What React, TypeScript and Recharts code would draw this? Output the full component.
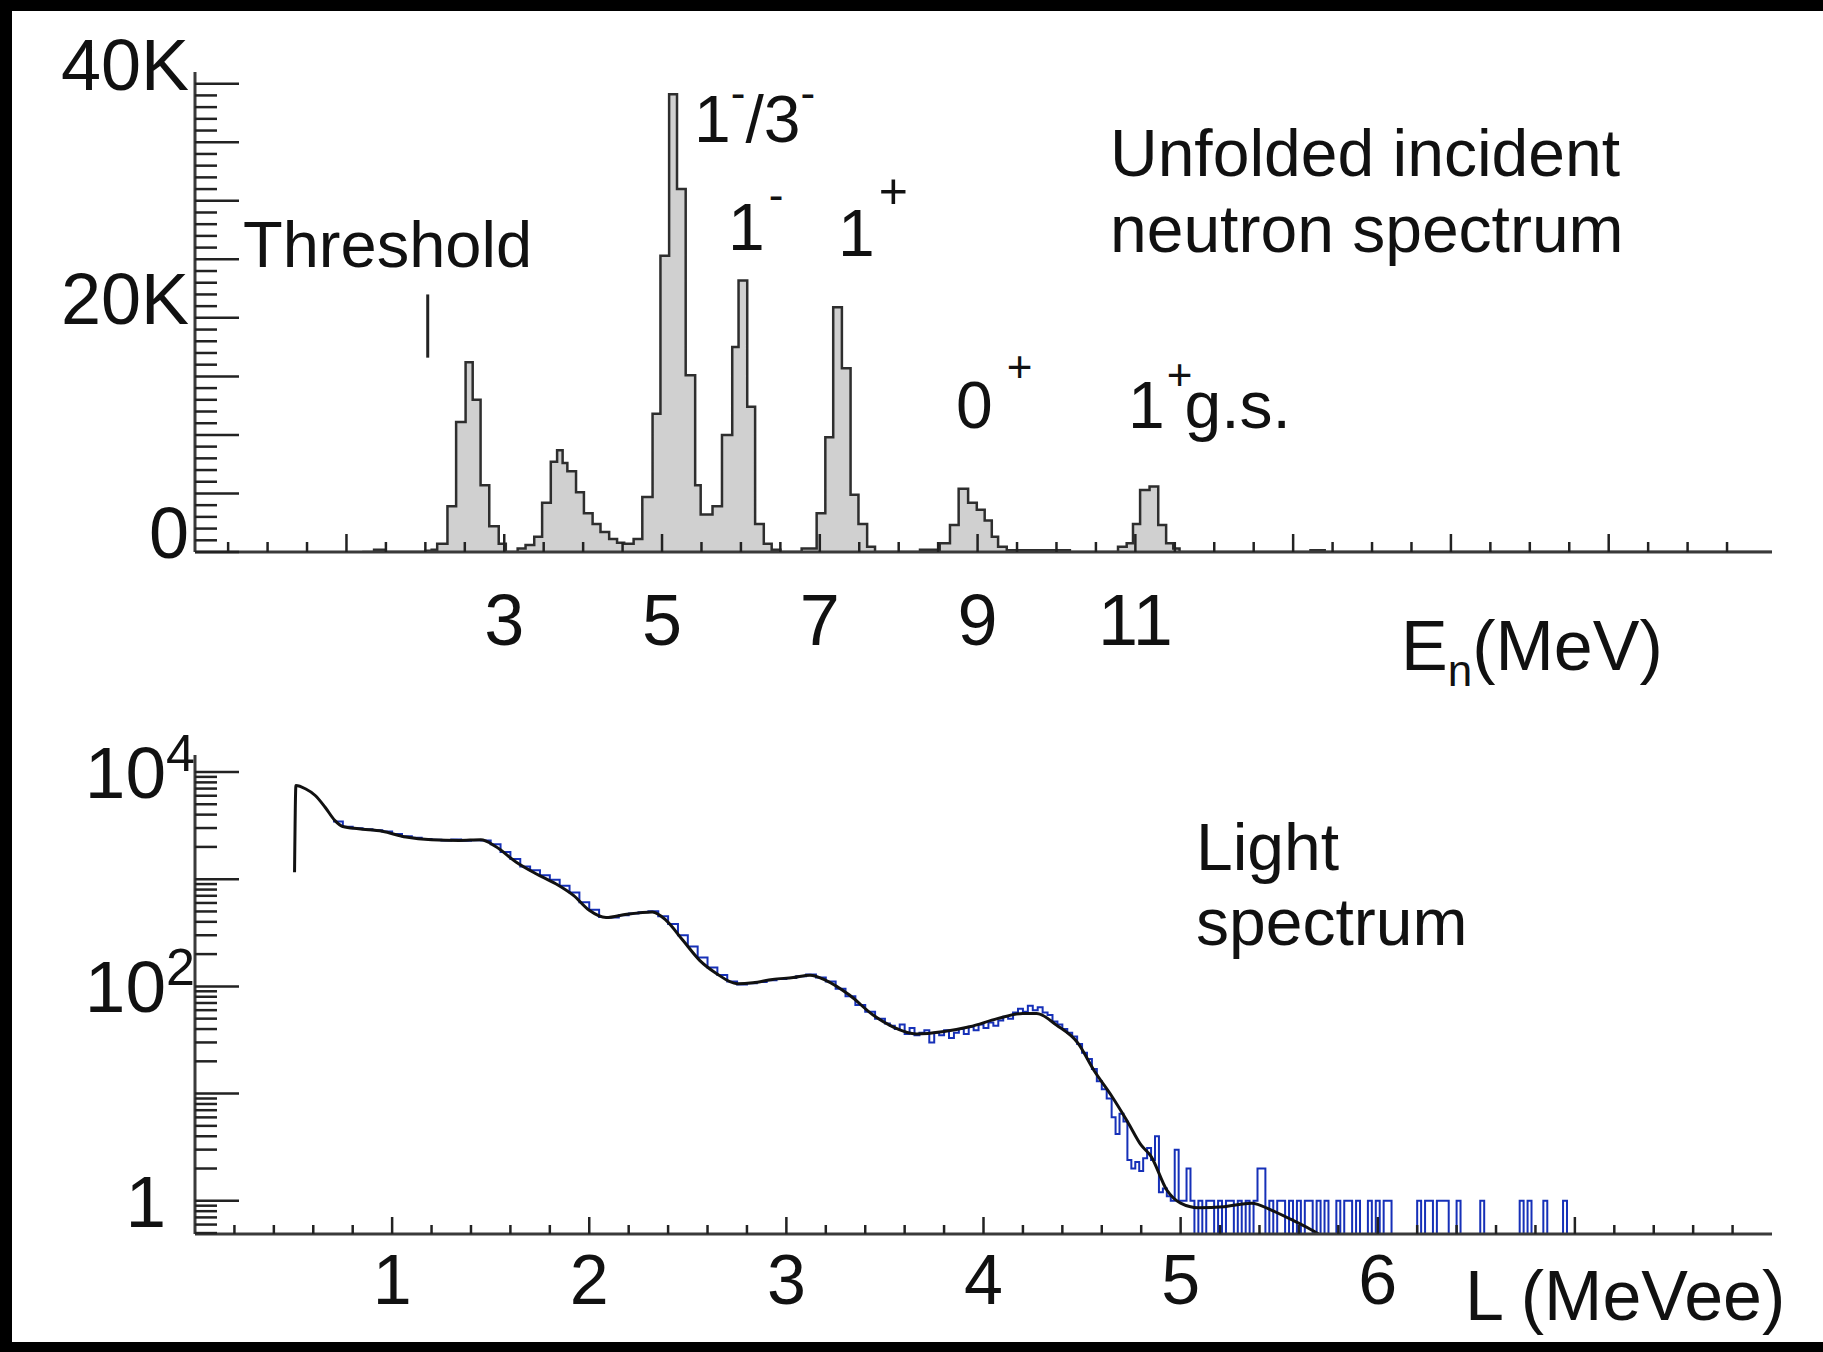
import React from 'react';
import { ComposedChart, Area, Line, XAxis, YAxis, ReferenceLine } from 'recharts';

const FONT = '"Liberation Sans", Arial, Helvetica, sans-serif';
const INK = '#111111';
const FRAME = '#3a3a3a';
const TICK = '#222222';

// ---- top panel: unfolded incident neutron spectrum (bin lower edge in MeV -> counts)
const EN_EDGES = [
  1.2, 1.35, 1.48, 2.0, 2.08, 2.15, 2.28, 2.39, 2.51, 2.6, 2.7, 2.81, 2.93, 3.02, 3.17, 3.27,
  3.38, 3.48, 3.59, 3.67, 3.74, 3.8, 3.91, 4.01, 4.12, 4.22, 4.33, 4.43, 4.52, 4.64, 4.75, 4.88,
  4.98, 5.09, 5.19, 5.3, 5.42, 5.49, 5.64, 5.76, 5.89, 5.97, 6.08, 6.18, 6.29, 6.39, 6.5, 6.77,
  6.96, 7.07, 7.17, 7.28, 7.39, 7.49, 7.6, 7.7, 8.27, 8.52, 8.65, 8.76, 8.88, 8.99, 9.09, 9.18,
  9.26, 9.37, 10.17, 10.78, 10.89, 10.97, 11.06, 11.18, 11.29, 11.39, 11.48, 11.56, 13.22, 13.4, 19.07
];
const EN_COUNTS = [
  0, 200, 0, 100, 200, 700, 3900, 11100, 16200, 13000, 5700, 2200, 700, 0, 300, 600,
  1300, 4200, 7700, 8700, 7600, 6900, 5100, 3300, 2400, 1700, 1100, 800, 700, 1100, 4700, 11800,
  25300, 39100, 31000, 15100, 5700, 3200, 3900, 10000, 17500, 23200, 12400, 2400, 700, 200, 0, 300,
  3300, 9800, 20900, 15700, 4900, 2400, 450, 0, 200, 740, 2300, 5400, 4200, 3600, 2700, 1300,
  450, 150, 0, 450, 740, 2400, 5300, 5600, 2300, 740, 300, 0, 150, 0, 0
];
const EN_TICKS = Array.from({ length: 39 }, (_, i) => -0.5 + i * 0.5);
const EN_LABELS = [3, 5, 7, 9, 11];
const COUNT_TICKS = Array.from({ length: 41 }, (_, i) => i * 1000);
const COUNT_LABEL_VALUES = [0, 20000, 40000];
const COUNT_LABEL_TEXT = ['0', '20K', '40K'];
const THRESHOLD_E = 2.03;
const THRESHOLD_SPAN = [16600, 22000];

// ---- bottom panel: light spectrum, fit (black) and measured histogram (blue)
const FIT_L = [
  0.505, 0.512, 0.56, 0.61, 0.66, 0.71, 0.75, 0.83, 0.95, 1.07, 1.2, 1.34, 1.45, 1.525, 1.63, 1.73,
  1.83, 1.92, 2.0, 2.085, 2.19, 2.32, 2.39, 2.475, 2.56, 2.645, 2.75, 2.83, 2.93, 3.035, 3.12, 3.2,
  3.32, 3.44, 3.54, 3.66, 3.8, 3.93, 4.07, 4.2, 4.27, 4.37, 4.48, 4.56, 4.65, 4.73, 4.8, 4.85,
  4.93, 5.0, 5.09, 5.22, 5.36, 5.46, 5.56, 5.66, 5.7
];
const FIT_V = [
  1160, 7470, 6970, 6030, 4690, 3520, 3100, 2950, 2800, 2470, 2330, 2300, 2330, 2020, 1440, 1125,
  908, 706, 512, 438, 470, 494, 413, 269, 175, 132, 106, 108, 116, 121, 127, 114,
  83, 54, 42, 36, 38, 42, 50, 56, 56, 43.5, 29.4, 16.5, 9.5, 5.5, 3.3, 2.6,
  1.26, 0.95, 0.86, 0.88, 0.95, 0.82, 0.67, 0.54, 0.49
];
const DATA_L = [
  0.7, 0.75, 0.8, 0.85, 0.9, 0.95, 1.0, 1.05, 1.1, 1.15, 1.2, 1.25, 1.3, 1.35, 1.4, 1.45, 1.5, 1.55,
  1.6, 1.65, 1.7, 1.75, 1.8, 1.85, 1.9, 1.95, 2.0, 2.05, 2.1, 2.15, 2.2, 2.25, 2.3, 2.35, 2.4, 2.45,
  2.5, 2.55, 2.6, 2.65, 2.7, 2.75, 2.8, 2.85, 2.9, 2.95, 3.0, 3.05, 3.1, 3.15, 3.2, 3.25, 3.3, 3.35,
  3.4, 3.45, 3.5,
  3.525, 3.55, 3.575, 3.6, 3.625, 3.65, 3.675, 3.7, 3.725, 3.75, 3.775, 3.8, 3.825, 3.85, 3.875, 3.9,
  3.925, 3.95, 3.975, 4.0, 4.025, 4.05, 4.075, 4.1, 4.125, 4.15, 4.175, 4.2, 4.225, 4.25, 4.275, 4.3,
  4.325, 4.35, 4.375, 4.4, 4.425, 4.45, 4.475, 4.5, 4.525, 4.55, 4.575, 4.6, 4.625, 4.65,
  4.67, 4.69, 4.71, 4.73, 4.75, 4.77, 4.79, 4.81, 4.83, 4.85, 4.87, 4.89, 4.91, 4.93, 4.95, 4.97,
  4.99, 5.01, 5.03, 5.05,
  5.07, 5.09, 5.11, 5.13, 5.15, 5.17, 5.19, 5.21, 5.23, 5.25, 5.27, 5.29, 5.31, 5.33, 5.35, 5.37,
  5.39, 5.41, 5.43, 5.45, 5.47, 5.49, 5.51, 5.53, 5.55, 5.57, 5.59, 5.61, 5.63, 5.65, 5.67, 5.69,
  5.71, 5.73, 5.75, 5.77, 5.79, 5.81, 5.83, 5.85, 5.87, 5.89, 5.91, 5.93, 5.95, 5.97, 5.99, 6.01,
  6.03, 6.05, 6.07,
  6.2, 6.22, 6.24, 6.26, 6.28, 6.3, 6.32, 6.34, 6.36, 6.38, 6.4, 6.42,
  6.52, 6.54, 6.72, 6.74, 6.76, 6.78, 6.84, 6.86, 6.94, 6.96, 8.0
];
const DATA_V = [
  3450, 3080, 2990, 2930, 2860, 2790, 2640, 2520, 2440, 2370, 2330, 2290, 2340, 2280, 2310, 2290, 2120, 1790,
  1540, 1310, 1210, 1090, 990, 870, 750, 610, 520, 445, 440, 462, 478, 492, 502, 452, 382, 300,
  236, 186, 150, 128, 111, 104, 107, 110, 114, 117, 120, 124, 129, 121, 111, 95, 81, 67,
  58, 50, 45,
  43, 40, 44, 36, 41, 35, 37, 39, 30, 37, 35, 39, 33, 37, 40, 36,
  42, 39, 44, 41, 46, 43, 48, 52, 50, 57, 62, 58, 66, 60, 64, 57,
  54, 47, 44, 40, 37, 34, 29, 24, 21, 17, 13, 11, 9, 6,
  4.2, 6.5, 5.5, 2.4, 2.0, 2.3, 1.9, 2.5, 3.1, 2.4, 4.0, 1.2, 1.3, 1.1, 1, 3,
  1, 1, 2, 1,
  0, 1, 0, 1, 1, 0, 1, 0, 1, 1, 0, 1, 0, 1, 0, 1,
  2, 2, 0, 1, 0, 1, 1, 0, 1, 0, 1, 0, 1, 1, 0, 1,
  0, 1, 0, 0, 1, 0, 1, 1, 0, 1, 0, 0, 1, 0, 1, 0,
  1, 1, 0,
  1, 0, 1, 1, 0, 1, 1, 1, 0, 0, 1, 0,
  1, 0, 1, 0, 1, 0, 1, 0, 1, 0, 0
];
// empty bins sit below the log floor, so they are drawn off the bottom and clipped
const EMPTY_BIN = 0.2;
const L_TICKS = Array.from({ length: 39 }, (_, i) => Math.round((i + 1) * 2) / 10);
const L_LABELS = [1, 2, 3, 4, 5, 6];
const LOG_TICKS = [0.5, 0.6, 0.7, 0.8, 0.9]
  .concat([1, 10, 100, 1000].flatMap((d) => [1, 2, 3, 4, 5, 6, 7, 8, 9].map((m) => m * d)))
  .concat([10000]);
const LOG_LABEL_VALUES = [1, 100, 10000];
const LOG_LABEL_EXP = ['', '2', '4'];

const EN_DOMAIN: [number, number] = [-0.92, 19.07];
const L_DOMAIN: [number, number] = [0, 8];

const enRows = EN_EDGES.map((e, i) => ({ e, n: EN_COUNTS[i] }));
const fitRows = FIT_L.map((l, i) => ({ l, v: FIT_V[i] }));
const dataRows = DATA_L.map((l, i) => ({ l, v: DATA_V[i] }));

const frameLine = { stroke: FRAME, strokeWidth: 3 };
const textStyle = { fontFamily: FONT, fill: INK };

const EnTick = (props: any) => {
  const { x, y, payload } = props;
  const v = payload.value;
  const major = Number.isInteger(v) && Math.abs(v % 2) === 1;
  return (
    <g>
      <line x1={x} x2={x} y1={y} y2={y - (major ? 18 : 10)} stroke={TICK} strokeWidth={2.5} />
      {EN_LABELS.includes(v) && (
        <text x={x} y={y + 93} textAnchor="middle" fontSize={72} {...textStyle}>{v}</text>
      )}
    </g>
  );
};

const CountTick = (props: any) => {
  const { x, y, payload } = props;
  const v = payload.value;
  const idx = COUNT_LABEL_VALUES.indexOf(v);
  return (
    <g>
      <line x1={x} x2={x + (v % 5000 === 0 ? 44 : 22)} y1={y} y2={y} stroke={TICK} strokeWidth={2.5} />
      {idx >= 0 && (
        <text x={x - 6} y={y + 6} textAnchor="end" fontSize={72} {...textStyle}>{COUNT_LABEL_TEXT[idx]}</text>
      )}
    </g>
  );
};

const LTick = (props: any) => {
  const { x, y, payload } = props;
  const v = payload.value;
  const major = Math.abs(v - Math.round(v)) < 1e-6;
  return (
    <g>
      <line x1={x} x2={x} y1={y} y2={y - (major ? 17 : 9)} stroke={TICK} strokeWidth={2.5} />
      {major && L_LABELS.includes(Math.round(v)) && (
        <text x={x} y={y + 70} textAnchor="middle" fontSize={70} {...textStyle}>{Math.round(v)}</text>
      )}
    </g>
  );
};

const LogTick = (props: any) => {
  const { x, y, payload } = props;
  const v = payload.value;
  const lg = Math.log10(v);
  const major = Math.abs(lg - Math.round(lg)) < 1e-9;
  const idx = LOG_LABEL_VALUES.indexOf(v);
  return (
    <g>
      <line x1={x} x2={x + (major ? 44 : 22)} y1={y} y2={y} stroke={TICK} strokeWidth={2.5} />
      {idx >= 0 && (
        <g>
          <text x={x - 29} y={y + 26} textAnchor="end" fontSize={73} {...textStyle}>
            {LOG_LABEL_EXP[idx] ? '10' : '1'}
          </text>
          {LOG_LABEL_EXP[idx] && (
            <text x={x - 29} y={y - 1} fontSize={52} {...textStyle}>{LOG_LABEL_EXP[idx]}</text>
          )}
        </g>
      )}
    </g>
  );
};

function NeutronPanel() {
  return (
    <ComposedChart width={1823} height={720} data={enRows} margin={{ top: 72, right: 51, bottom: 108, left: 95 }}>
      <XAxis dataKey="e" type="number" domain={EN_DOMAIN} allowDataOverflow ticks={EN_TICKS} interval={0}
        tick={EnTick} tickLine={false} tickSize={0} tickMargin={0} height={60} axisLine={frameLine} />
      <XAxis xAxisId="top" orientation="top" type="number" domain={EN_DOMAIN} allowDataOverflow
        tick={false} tickLine={false} height={0} axisLine={frameLine} />
      <YAxis type="number" domain={[0, 41000]} allowDataOverflow ticks={COUNT_TICKS} interval={0}
        tick={CountTick} tickLine={false} tickSize={0} tickMargin={0} width={100} axisLine={frameLine} />
      <YAxis yAxisId="right" orientation="right" type="number" domain={[0, 41000]}
        tick={false} tickLine={false} width={0} axisLine={frameLine} />
      <Area type="stepAfter" dataKey="n" stroke="#2e2e2e" strokeWidth={2.5} fill="#d0d0d0" fillOpacity={1}
        dot={false} activeDot={false} isAnimationActive={false} />
      <ReferenceLine segment={[{ x: THRESHOLD_E, y: THRESHOLD_SPAN[0] }, { x: THRESHOLD_E, y: THRESHOLD_SPAN[1] }]}
        stroke="#222" strokeWidth={3} />
      <text x={243} y={267} fontSize={65} {...textStyle}>Threshold</text>
      <text x={694} y={142} fontSize={66} {...textStyle}>
        1<tspan dy={-34} fontSize={44}>-</tspan><tspan dy={34} fontSize={66}>/3</tspan><tspan dy={-34} fontSize={44}>-</tspan>
      </text>
      <text x={728} y={250} fontSize={66} {...textStyle}>
        1<tspan dy={-40} dx={4} fontSize={44}>-</tspan>
      </text>
      <text x={838} y={256} fontSize={66} {...textStyle}>
        1<tspan dy={-48} dx={4} fontSize={50}>+</tspan>
      </text>
      <text x={956} y={428} fontSize={66} {...textStyle}>
        0<tspan dy={-46} dx={14} fontSize={44}>+</tspan>
      </text>
      <text x={1128} y={428} fontSize={66} {...textStyle}>
        1<tspan dy={-38} dx={2} fontSize={44}>+</tspan><tspan dy={38} dx={-8} fontSize={66}>g.s.</tspan>
      </text>
      <text x={1110} y={176} fontSize={66} {...textStyle}>Unfolded incident</text>
      <text x={1110} y={252} fontSize={66} {...textStyle}>neutron spectrum</text>
      <text x={1401} y={670} fontSize={70} {...textStyle}>
        E<tspan dy={16} fontSize={44}>n</tspan><tspan dy={-16} fontSize={70}>(MeV)</tspan>
      </text>
    </ComposedChart>
  );
}

function LightPanel() {
  return (
    <ComposedChart width={1823} height={702} margin={{ top: 105, right: 51, bottom: 58, left: 95 }}>
      <XAxis dataKey="l" type="number" domain={L_DOMAIN} allowDataOverflow ticks={L_TICKS} interval={0}
        tick={LTick} tickLine={false} tickSize={0} tickMargin={0} height={60} axisLine={frameLine} />
      <XAxis xAxisId="top" orientation="top" type="number" domain={L_DOMAIN} allowDataOverflow
        tick={false} tickLine={false} height={0} axisLine={frameLine} />
      <YAxis type="number" scale="log" domain={[0.49, 14400]} allowDataOverflow ticks={LOG_TICKS} interval={0}
        tick={LogTick} tickLine={false} tickSize={0} tickMargin={0} width={100} axisLine={frameLine} />
      <YAxis yAxisId="right" orientation="right" type="number" domain={[0, 1]}
        tick={false} tickLine={false} width={0} axisLine={frameLine} />
      <Line data={dataRows} type="stepAfter" dataKey={(d: any) => (d.v > 0 ? d.v : EMPTY_BIN)}
        stroke="#1630b8" strokeWidth={2} dot={false} activeDot={false} isAnimationActive={false} />
      <Line data={fitRows} type="monotone" dataKey="v" stroke="#111" strokeWidth={3}
        dot={false} activeDot={false} isAnimationActive={false} />
      <text x={1196} y={220} fontSize={66} {...textStyle}>Light</text>
      <text x={1196} y={295} fontSize={66} {...textStyle}>spectrum</text>
      <text x={1465} y={670} fontSize={70} {...textStyle}>L (MeVee)</text>
    </ComposedChart>
  );
}

export default function App() {
  return (
    <div style={{ position: 'absolute', left: 0, top: 0, width: 1823, height: 1352, background: '#000', overflow: 'hidden' }}>
      <div style={{ position: 'absolute', left: 12, top: 11, width: 1811, height: 1331, background: '#fff' }} />
      <div style={{ position: 'absolute', left: 0, top: 0 }}>
        <NeutronPanel />
      </div>
      <div style={{ position: 'absolute', left: 0, top: 650 }}>
        <LightPanel />
      </div>
    </div>
  );
}
